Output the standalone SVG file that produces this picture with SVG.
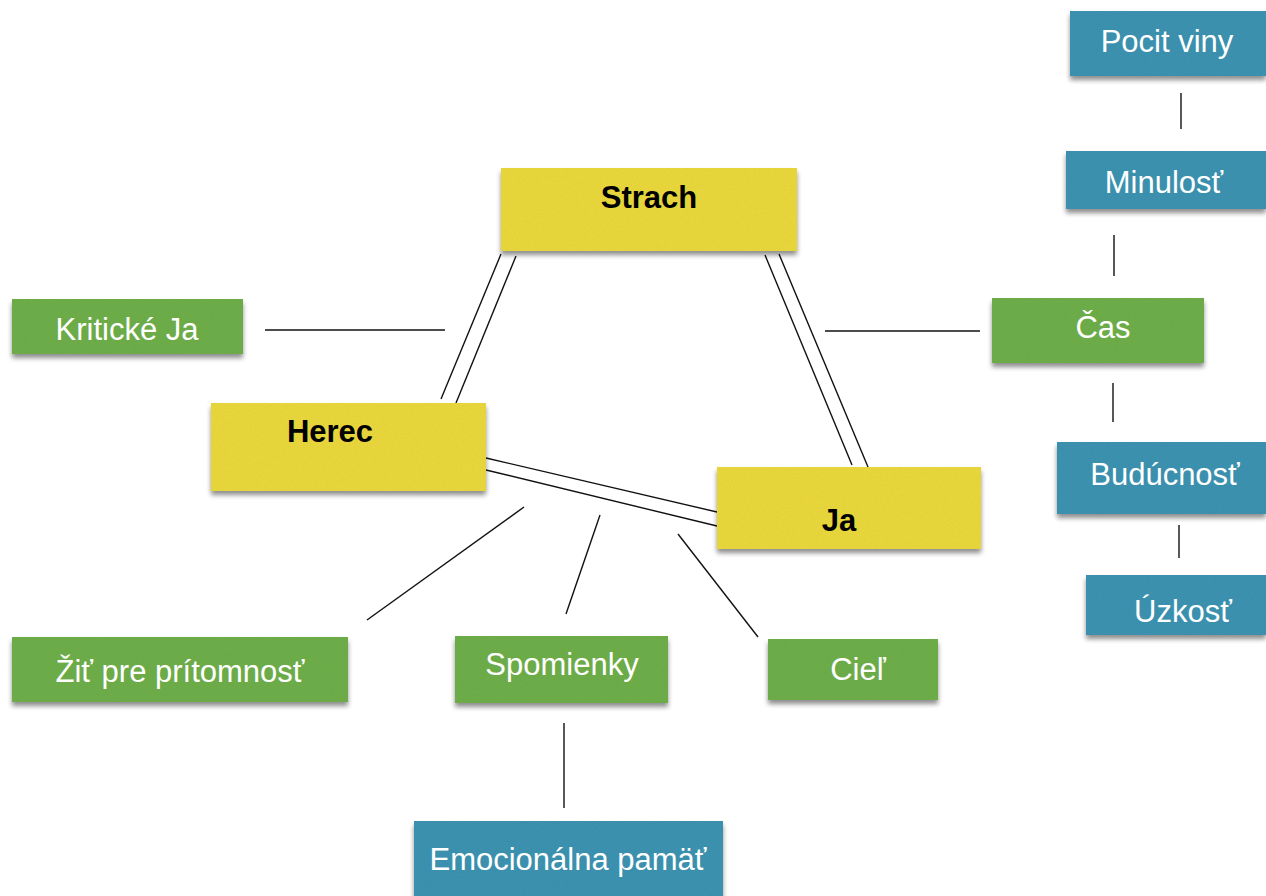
<svg xmlns="http://www.w3.org/2000/svg" width="1266" height="896" viewBox="0 0 1266 896">
<defs>
<filter id="sh" x="-10%" y="-20%" width="120%" height="150%">
<feGaussianBlur in="SourceAlpha" stdDeviation="2.5"/>
<feOffset dx="0" dy="4" result="b"/>
<feComponentTransfer in="b" result="s"><feFuncA type="linear" slope="0.45"/></feComponentTransfer>
<feTurbulence type="fractalNoise" baseFrequency="0.9" numOctaves="2" seed="3" result="n"/>
<feColorMatrix in="n" type="matrix" values="0 0 0 0 0  0 0 0 0 0  0 0 0 0 0  0 0 0 0.12 0" result="nk"/>
<feComposite in="nk" in2="SourceGraphic" operator="in" result="tex"/>
<feMerge><feMergeNode in="s"/><feMergeNode in="SourceGraphic"/><feMergeNode in="tex"/></feMerge>
</filter>
</defs>
<style>
.y{fill:#ecda3e}
.g{fill:#70b04c}
.b{fill:#3c94b2}
.tw{font-family:"Liberation Sans",Arial,sans-serif;font-size:31px;fill:#fff;text-anchor:middle}
.tb{font-family:"Liberation Sans",Arial,sans-serif;font-size:31px;font-weight:bold;fill:#000;text-anchor:middle}
.c line{stroke:#111;stroke-width:1.4}
</style>
<g class="c" id="connectors">
<line x1="501" y1="254" x2="441" y2="399"/>
<line x1="516" y1="256" x2="456" y2="403"/>
<line x1="765" y1="255" x2="852" y2="465"/>
<line x1="779" y1="254" x2="868" y2="467"/>
<line x1="486" y1="458" x2="717" y2="512"/>
<line x1="486" y1="470" x2="717" y2="526"/>
<line x1="265" y1="330" x2="445" y2="330"/>
<line x1="825" y1="331" x2="980" y2="331"/>
<line x1="1181" y1="93" x2="1181" y2="129"/>
<line x1="1114" y1="235" x2="1114" y2="276"/>
<line x1="1113" y1="383" x2="1113" y2="422"/>
<line x1="1179" y1="525" x2="1179" y2="558"/>
<line x1="564" y1="723" x2="564" y2="808"/>
<line x1="524" y1="507" x2="367" y2="620"/>
<line x1="600" y1="515" x2="566" y2="614"/>
<line x1="678" y1="534" x2="758" y2="637"/>
</g>
<g id="strach"><rect class="y" x="501" y="168" width="296" height="83" filter="url(#sh)"/><text class="tb" x="649" y="208">Strach</text></g>
<g id="herec"><rect class="y" x="211" y="403" width="275" height="88" filter="url(#sh)"/><text class="tb" x="330" y="442">Herec</text></g>
<g id="ja"><rect class="y" x="717" y="467" width="264" height="82" filter="url(#sh)"/><text class="tb" x="839" y="531">Ja</text></g>
<g id="kriticke-ja"><rect class="g" x="12" y="299" width="231" height="55" filter="url(#sh)"/><text class="tw" x="127" y="340">Kritické Ja</text></g>
<g id="cas"><rect class="g" x="992" y="298" width="212" height="65" filter="url(#sh)"/><text class="tw" x="1103" y="338">Čas</text></g>
<g id="zit"><rect class="g" x="12" y="637" width="336" height="65" filter="url(#sh)"/><text class="tw" x="180" y="682">Žiť pre prítomnosť</text></g>
<g id="spomienky"><rect class="g" x="455" y="636" width="213" height="67" filter="url(#sh)"/><text class="tw" x="562" y="675">Spomienky</text></g>
<g id="ciel"><rect class="g" x="768" y="639" width="170" height="61" filter="url(#sh)"/><text class="tw" x="858" y="680">Cieľ</text></g>
<g id="pocit-viny"><rect class="b" x="1070" y="11" width="196" height="65" filter="url(#sh)"/><text class="tw" x="1167" y="52">Pocit viny</text></g>
<g id="minulost"><rect class="b" x="1066" y="151" width="200" height="58" filter="url(#sh)"/><text class="tw" x="1164" y="193">Minulosť</text></g>
<g id="buducnost"><rect class="b" x="1057" y="442" width="209" height="72" filter="url(#sh)"/><text class="tw" x="1165" y="485">Budúcnosť</text></g>
<g id="uzkost"><rect class="b" x="1086" y="575" width="180" height="60" filter="url(#sh)"/><text class="tw" x="1183" y="622">Úzkosť</text></g>
<g id="emocionalna"><rect class="b" x="414" y="821" width="309" height="80" filter="url(#sh)"/><text class="tw" x="568" y="870">Emocionálna pamäť</text></g>
</svg>
